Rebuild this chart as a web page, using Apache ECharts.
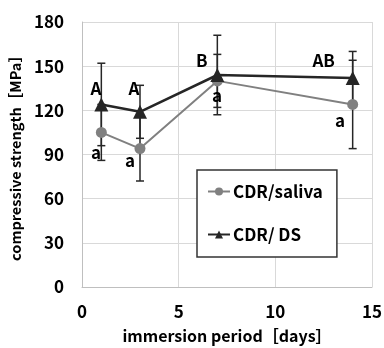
<!DOCTYPE html>
<html>
<head>
<meta charset="utf-8">
<script src="https://cdn.jsdelivr.net/npm/echarts@6/dist/echarts.min.js"></script>
<style>
  html, body { margin: 0; padding: 0; background: #fff; }
  #chart { width: 384px; height: 348px; }
</style>
</head>
<body>
<div id="chart"></div>
<script>
// 数据
const days = [1, 3, 7, 14];
const salivaMean = [105, 94, 140, 124];
const salivaSD = [19, 22, 18, 30];
const dsMean = [124, 119, 144, 142];
const dsSD = [28, 18, 27, 18];

// 有意差の文字
const letterText = ['A', 'A', 'B', 'AB', 'a', 'a', 'a', 'a'];
const letterX = [0.72, 2.69, 6.2, 12.5, 0.72, 2.48, 6.98, 13.35];
const letterY = [135, 135, 153.5, 153.5, 91, 86, 130, 113];

const FONT = 'Noto Sans CJK JP';

const chart = echarts.init(document.getElementById('chart'));

function errData(mean, sd) {
  return days.map((d, i) => [d, mean[i] - sd[i], mean[i] + sd[i]]);
}

function renderErr(params, api) {
  const x = api.value(0);
  const lo = api.coord([x, api.value(1)]);
  const hi = api.coord([x, api.value(2)]);
  const w = 4;
  const style = { stroke: '#262626', lineWidth: 1.5 };
  return {
    type: 'group',
    children: [
      { type: 'line', shape: { x1: lo[0], y1: lo[1], x2: hi[0], y2: hi[1] }, style: style },
      { type: 'line', shape: { x1: lo[0] - w, y1: lo[1], x2: lo[0] + w, y2: lo[1] }, style: style },
      { type: 'line', shape: { x1: hi[0] - w, y1: hi[1], x2: hi[0] + w, y2: hi[1] }, style: style }
    ]
  };
}

const option = {
  animation: false,
  textStyle: { fontFamily: FONT },
  grid: { left: 82, right: 12, top: 22, bottom: 61, outerBoundsMode: 'none', containLabel: false },
  legend: {
    data: ['CDR/saliva', 'CDR/ DS'],
    orient: 'vertical',
    left: 197,
    top: 170,
    width: 142,
    padding: [13, 14, 14, 10],
    itemGap: 26,
    itemWidth: 22,
    itemHeight: 10,
    backgroundColor: '#fff',
    borderColor: '#333',
    borderWidth: 1.5,
    borderRadius: 0,
    textStyle: { fontFamily: FONT, fontWeight: 'bold', fontSize: 17, color: '#000', padding: [0, 0, 0, -2] }
  },
  xAxis: {
    type: 'value',
    min: 0,
    max: 15,
    interval: 5,
    name: 'immersion period［days］',
    nameLocation: 'middle',
    nameGap: 41,
    nameTextStyle: { fontFamily: FONT, fontWeight: 'bold', fontSize: 16, color: '#000' },
    axisLine: { show: true, lineStyle: { color: '#bfbfbf', width: 1 } },
    axisTick: { show: false },
    axisLabel: { fontFamily: FONT, fontWeight: 'bold', fontSize: 17, color: '#000', margin: 16 },
    splitLine: { show: true, lineStyle: { color: '#d9d9d9', width: 1 } }
  },
  yAxis: {
    type: 'value',
    min: 0,
    max: 180,
    interval: 30,
    name: 'compressive strength［MPa］',
    nameLocation: 'middle',
    nameGap: 55,
    nameTextStyle: { fontFamily: FONT, fontWeight: 'bold', fontSize: 14.5, color: '#000' },
    axisLine: { show: true, lineStyle: { color: '#bfbfbf', width: 1 } },
    axisTick: { show: false },
    axisLabel: { fontFamily: FONT, fontWeight: 'bold', fontSize: 17, color: '#000', margin: 18 },
    splitLine: { show: true, lineStyle: { color: '#d9d9d9', width: 1 } }
  },
  series: [
    {
      name: 'errSaliva',
      type: 'custom',
      renderItem: renderErr,
      encode: { x: 0, y: [1, 2] },
      data: errData(salivaMean, salivaSD),
      z: 1
    },
    {
      name: 'errDS',
      type: 'custom',
      renderItem: renderErr,
      encode: { x: 0, y: [1, 2] },
      data: errData(dsMean, dsSD),
      z: 1
    },
    {
      name: 'CDR/saliva',
      type: 'line',
      data: days.map((d, i) => [d, salivaMean[i]]),
      symbol: 'circle',
      symbolSize: 11,
      lineStyle: { color: '#808080', width: 2 },
      itemStyle: { color: '#808080' },
      z: 3
    },
    {
      name: 'CDR/ DS',
      type: 'line',
      data: days.map((d, i) => [d, dsMean[i]]),
      symbol: 'triangle',
      symbolSize: 14,
      lineStyle: { color: '#262626', width: 2.5 },
      itemStyle: { color: '#262626' },
      z: 4
    },
    {
      name: 'letters',
      type: 'custom',
      encode: { x: 0, y: 1 },
      data: letterText.map((t, i) => [letterX[i], letterY[i], t]),
      renderItem: function (params, api) {
        const p = api.coord([api.value(0), api.value(1)]);
        return {
          type: 'text',
          x: p[0],
          y: p[1],
          style: {
            text: letterText[params.dataIndex],
            fontFamily: FONT,
            fontWeight: 'bold',
            fontSize: 17,
            fill: '#000',
            align: 'center',
            verticalAlign: 'middle'
          }
        };
      },
      z: 5
    }
  ]
};

chart.setOption(option);
</script>
</body>
</html>
